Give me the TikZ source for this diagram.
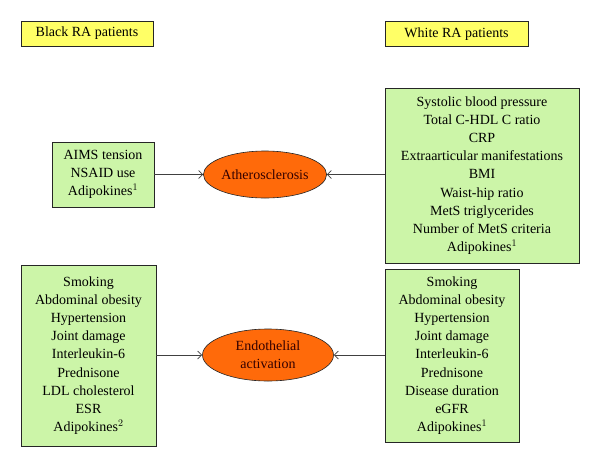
\documentclass[tikz,border=0pt]{standalone}
\usepackage{fontspec}
\setmainfont{Liberation Serif}
\usepackage{tikz}
\usetikzlibrary{shapes.geometric, arrows.meta}
\usetikzlibrary{positioning}

\definecolor{groupyellow}{HTML}{FFFF66}
\definecolor{factorgreen}{HTML}{CCF5A8}
\definecolor{outcomeorange}{HTML}{FF6A0A}

\begin{document}
\begin{tikzpicture}[x=1pt, y=-1pt,
    font=\fontsize{14}{18.2}\selectfont,
    group/.style={draw=black!85, fill=groupyellow, line width=0.8pt,
        inner sep=0pt, minimum height=25pt},
    factors/.style={draw=black!85, fill=factorgreen, line width=0.8pt,
        align=center, inner sep=0pt},
    outcome/.style={ellipse, draw=black!85, fill=outcomeorange,
        line width=0.6pt, align=center, inner sep=0pt,
        text=black!80!red},
    link/.style={draw=black!75, line width=0.7pt,
        -{Straight Barb[length=4pt, width=8pt]}}]

    \useasboundingbox (0,0) rectangle (600,467);

    % group headers
    \node[group, minimum width=132pt] (black) at (87,33.5) {Black RA patients};
    \node[group, minimum width=143pt] (white) at (456.5,34) {White RA patients};

    % atherosclerosis
    \node[factors, minimum width=102pt, minimum height=65pt] (blackath) at (103,174.5)
        {AIMS tension\\NSAID use\\Adipokines$^{1}$};
    \node[factors, minimum width=194pt, minimum height=175pt] (whiteath) at (482,175.5)
        {Systolic blood pressure\\Total C-HDL C ratio\\CRP\\Extraarticular manifestations\\BMI\\Waist-hip ratio\\MetS triglycerides\\Number of MetS criteria\\Adipokines$^{1}$};
    \node[outcome, minimum width=116pt, minimum height=47pt] (ath) at (265,174.5)
        {Atherosclerosis};

    % endothelial activation
    \node[factors, minimum width=135pt, minimum height=181pt] (blackendo) at (88.5,355.5)
        {Smoking\\Abdominal obesity\\Hypertension\\Joint damage\\Interleukin-6\\Prednisone\\LDL cholesterol\\ESR\\Adipokines$^{2}$};
    \node[factors, minimum width=134pt, minimum height=173pt] (whiteendo) at (452,355.5)
        {Smoking\\Abdominal obesity\\Hypertension\\Joint damage\\Interleukin-6\\Prednisone\\Disease duration\\eGFR\\Adipokines$^{1}$};
    \node[outcome, minimum width=131pt, minimum height=52pt] (endo) at (268,355)
        {Endothelial\\activation};

    \draw[link] (blackath.east) -- (ath.west);
    \draw[link] (whiteath.west |- ath) -- (ath.east);
    \draw[link] (blackendo.east |- endo) -- (endo.west);
    \draw[link] (whiteendo.west |- endo) -- (endo.east);

\end{tikzpicture}
\end{document}
